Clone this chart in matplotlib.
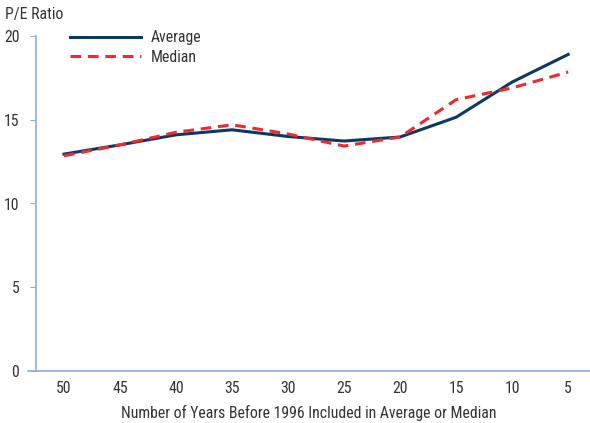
import matplotlib.pyplot as plt
import numpy as np

plt.rcParams['font.family'] = ['Roboto Condensed', 'DejaVu Sans']

years = ['50', '45', '40', '35', '30', '25', '20', '15', '10', '5']
average = [12.95, 13.5, 14.1, 14.4, 14.0, 13.73, 13.97, 15.15, 17.25, 18.9]
median = [12.85, 13.5, 14.25, 14.7, 14.15, 13.43, 13.97, 16.2, 16.9, 17.85]

navy = '#0c3963'
red = '#ee2a2e'
axis_col = '#8eaedb'
text_col = '#333333'
fs = 11.3

fig = plt.figure(figsize=(5.9, 4.23), dpi=100)
ax = fig.add_axes([28 / 590, 1 - 371 / 423, 562 / 590, 335 / 423])

x = np.arange(len(years))
ax.plot(x, average, color=navy, lw=2.2, label='Average')
ax.plot(x, median, color=red, lw=2.2, ls=(0, (3.5, 2.2)), label='Median')

ax.set_xlim(-0.643, 9.39)
ax.set_ylim(0, 20)
ax.set_yticks([0, 5, 10, 15, 20])
ax.set_xticks(x)
ax.set_xticklabels(years)

for s in ['top', 'right']:
    ax.spines[s].set_visible(False)
ax.spines['left'].set_position(('data', -0.5))
ax.spines['left'].set_color(axis_col)
ax.spines['bottom'].set_color(axis_col)
ax.spines['left'].set_linewidth(1.2)
ax.spines['bottom'].set_linewidth(1.2)

ax.tick_params(axis='y', length=4, color=axis_col, labelsize=fs, labelcolor=text_col, pad=8)
ax.tick_params(axis='x', length=0, labelsize=fs, labelcolor=text_col, pad=7)

ax.set_xlabel('Number of Years Before 1996 Included in Average or Median', fontsize=fs, color=text_col, labelpad=7)
fig.text(5 / 590, 1 - 15 / 423, 'P/E Ratio', fontsize=fs, color=text_col, va='center', ha='left')

ax.legend(loc='upper left', bbox_to_anchor=(0.05, 1.06), frameon=False, fontsize=fs,
          handlelength=4.5, labelspacing=0.3, handletextpad=0.6, labelcolor=text_col)

fig.savefig('out.png', dpi=100)
